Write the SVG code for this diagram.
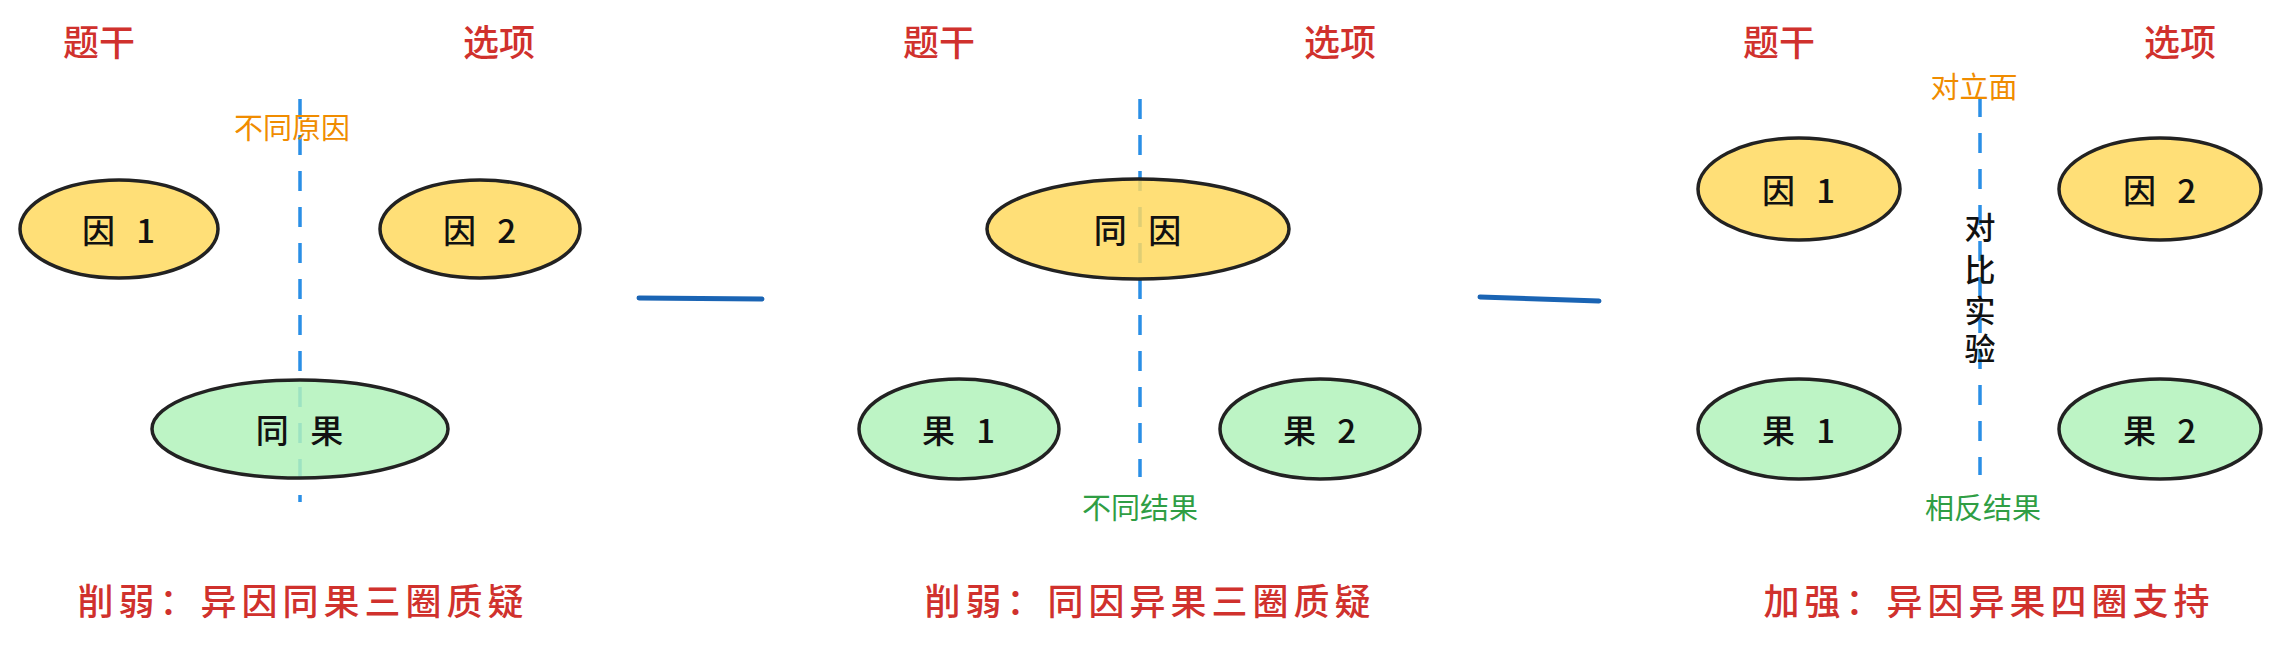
<svg xmlns="http://www.w3.org/2000/svg" width="2280" height="649" viewBox="0 0 2280 649">
<style>
text{font-family:"Noto Sans CJK SC","Noto Sans",sans-serif;text-anchor:middle;dominant-baseline:central}
.h{fill:#d0312d;font-size:36px;font-weight:500}
.t{fill:#d0312d;font-size:36px;font-weight:500;letter-spacing:5px}
.o{fill:#f08c00;font-size:29px}
.g{fill:#2f9e44;font-size:29px}
.n{fill:#111;font-size:33px;font-weight:500;letter-spacing:7px}
.v{fill:#111;font-size:31px;font-weight:500}
.y{fill:#ffd95f;fill-opacity:0.85;stroke:#222;stroke-width:3.5}
.gr{fill:#b2f2bb;fill-opacity:0.85;stroke:#222;stroke-width:3.5}
.d{stroke:#2a8fe6;stroke-width:3.5;stroke-dasharray:20 16;fill:none}
.b{stroke:#1a64b4;stroke-width:5;stroke-linecap:round;fill:none}
</style>
<g id="connectors">
<line class="d" x1="300" y1="99" x2="300" y2="502"/>
<line class="d" x1="1140" y1="99" x2="1140" y2="477"/>
<line class="d" x1="1980" y1="97" x2="1980" y2="475"/>
<line class="b" x1="639" y1="298" x2="762" y2="299"/>
<line class="b" x1="1480" y1="297" x2="1599" y2="301"/>
</g>
<g id="p1-heads"><text class="h" x="99" y="40">题干</text><text class="h" x="499" y="40">选项</text></g>
<g id="p1-label"><text class="o" x="292" y="126">不同原因</text></g>
<g id="p1-yin1"><ellipse class="y" cx="119" cy="229" rx="99" ry="49"/><text class="n" x="122" y="229">因 1</text></g>
<g id="p1-yin2"><ellipse class="y" cx="480" cy="229" rx="100" ry="49"/><text class="n" x="483" y="229">因 2</text></g>
<g id="p1-guo"><ellipse class="gr" cx="300" cy="429" rx="148" ry="49"/><text class="n" x="303" y="429">同 果</text></g>
<g id="p1-title"><text class="t" x="303" y="599">削弱：异因同果三圈质疑</text></g>

<g id="p2-heads"><text class="h" x="939" y="40">题干</text><text class="h" x="1340" y="40">选项</text></g>
<g id="p2-yin"><ellipse class="y" cx="1138" cy="229" rx="151" ry="50"/><text class="n" x="1141" y="229">同 因</text></g>
<g id="p2-guo1"><ellipse class="gr" cx="959" cy="429" rx="100" ry="50"/><text class="n" x="962" y="429">果 1</text></g>
<g id="p2-guo2"><ellipse class="gr" cx="1320" cy="429" rx="100" ry="50"/><text class="n" x="1323" y="429">果 2</text></g>
<g id="p2-label"><text class="g" x="1140" y="506">不同结果</text></g>
<g id="p2-title"><text class="t" x="1150" y="599">削弱：同因异果三圈质疑</text></g>

<g id="p3-heads"><text class="h" x="1779" y="40">题干</text><text class="h" x="2180" y="40">选项</text></g>
<g id="p3-label"><text class="o" x="1974" y="85">对立面</text></g>
<g id="p3-yin1"><ellipse class="y" cx="1799" cy="189" rx="101" ry="51"/><text class="n" x="1802" y="189">因 1</text></g>
<g id="p3-yin2"><ellipse class="y" cx="2160" cy="189" rx="101" ry="51"/><text class="n" x="2163" y="189">因 2</text></g>
<g id="p3-guo1"><ellipse class="gr" cx="1799" cy="429" rx="101" ry="50"/><text class="n" x="1802" y="429">果 1</text></g>
<g id="p3-guo2"><ellipse class="gr" cx="2160" cy="429" rx="101" ry="50"/><text class="n" x="2163" y="429">果 2</text></g>
<g id="p3-vert"><text class="v" x="1980" y="225">对</text><text class="v" x="1980" y="267">比</text><text class="v" x="1980" y="308">实</text><text class="v" x="1980" y="346">验</text></g>
<g id="p3-label2"><text class="g" x="1983" y="506">相反结果</text></g>
<g id="p3-title"><text class="t" x="1989" y="599">加强：异因异果四圈支持</text></g>
</svg>
